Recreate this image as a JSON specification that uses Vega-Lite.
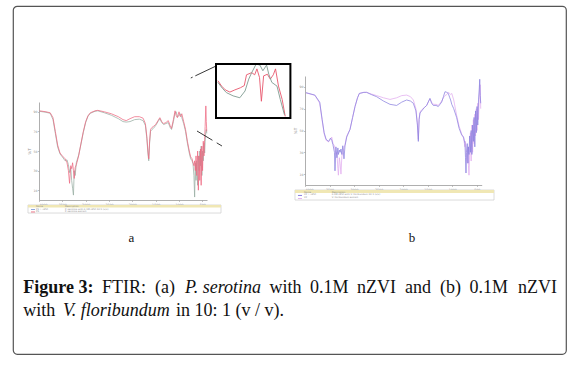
{
"$schema": "https://vega.github.io/schema/vega-lite/v6.json",
"width": 553, "height": 348,
"autosize": {"type": "none"},
"padding": {"left": 13, "top": 6, "right": 22, "bottom": 14},
"background": "white",
"config": {
  "view": {"stroke": "#555555", "strokeWidth": 1.2, "cornerRadius": 4},
  "axis": {"grid": false, "domainColor": "#9a9a9a", "domainWidth": 0.8, "tickColor": "#9a9a9a", "tickSize": 1.5, "tickWidth": 0.6, "labelFontSize": 3.2, "labelColor": "#909090", "labelPadding": 0.5, "labelOverlap": false, "titleFontSize": 4, "titleColor": "#909090", "titleFontWeight": "normal", "labelFont": "DejaVu Sans", "titleFont": "DejaVu Sans"}
},
"datasets": {
  "a": [
    {"w":3990,"g":90.5,"r":91},{"w":3850,"g":89.5,"r":90},{"w":3760,"g":88.5,"r":89},{"w":3700,"g":82,"r":84},{"w":3650,"g":68,"r":70},{"w":3600,"g":54,"r":56},{"w":3550,"g":47,"r":48},{"w":3500,"g":44,"r":45},{"w":3440,"g":40,"r":42},{"w":3400,"g":41,"r":38},{"w":3370,"g":36,"r":30},{"w":3345,"g":28,"r":17},{"w":3320,"g":33,"r":35},{"w":3300,"g":20,"r":32},{"w":3280,"g":12,"r":38},{"w":3262,"g":5,"r":30},{"w":3245,"g":30,"r":22},{"w":3225,"g":25,"r":33},{"w":3200,"g":38,"r":36},{"w":3150,"g":46,"r":45},{"w":3100,"g":57,"r":58},{"w":3050,"g":69,"r":70},{"w":3000,"g":79,"r":80},{"w":2950,"g":85.5,"r":86},{"w":2900,"g":88.5,"r":89},{"w":2800,"g":90.5,"r":91},{"w":2740,"g":91,"r":91.5},{"w":2600,"g":89,"r":90},{"w":2450,"g":86.5,"r":88},{"w":2300,"g":83,"r":85},{"w":2200,"g":80,"r":82},{"w":2130,"g":79.5,"r":81},{"w":2050,"g":80,"r":83},{"w":1950,"g":82,"r":85},{"w":1850,"g":82.5,"r":85},{"w":1770,"g":81,"r":83.5},{"w":1720,"g":76,"r":78},{"w":1690,"g":63,"r":65},{"w":1665,"g":47,"r":50},{"w":1648,"g":40,"r":42},{"w":1630,"g":58,"r":60},{"w":1610,"g":70,"r":72},{"w":1580,"g":72,"r":74},{"w":1550,"g":73,"r":75},{"w":1500,"g":76,"r":77},{"w":1450,"g":80,"r":81},{"w":1410,"g":83,"r":84},{"w":1370,"g":79,"r":80},{"w":1330,"g":77,"r":78},{"w":1280,"g":78,"r":79},{"w":1230,"g":79,"r":81},{"w":1190,"g":74,"r":76},{"w":1160,"g":72,"r":73},{"w":1120,"g":80,"r":82},{"w":1085,"g":89,"r":91},{"w":1060,"g":90,"r":86},{"w":1034,"g":85,"r":84},{"w":1000,"g":86,"r":90},{"w":970,"g":88,"r":85},{"w":940,"g":84,"r":88},{"w":900,"g":78,"r":80},{"w":860,"g":70,"r":72},{"w":820,"g":58,"r":60},{"w":780,"g":48,"r":50},{"w":750,"g":42,"r":44},{"w":720,"g":40,"r":42},{"w":700,"g":37,"r":38},{"w":680,"g":25,"r":35},{"w":665,"g":3,"r":40},{"w":650,"g":38,"r":30},{"w":635,"g":20,"r":45},{"w":620,"g":40,"r":25},{"w":600,"g":15,"r":50},{"w":585,"g":45,"r":10},{"w":570,"g":30,"r":45},{"w":555,"g":50,"r":20},{"w":540,"g":35,"r":52},{"w":525,"g":55,"r":15},{"w":510,"g":25,"r":55},{"w":495,"g":50,"r":30},{"w":480,"g":40,"r":60},{"w":465,"g":58,"r":45},{"w":450,"g":48,"r":62},{"w":440,"g":60,"r":75},{"w":425,"g":70,"r":96},{"w":415,"g":72,"r":80},{"w":405,"g":68,"r":70}
  ],
  "b": [
    {"w":3980,"p":84.7,"k":84.5},{"w":3800,"p":82.5,"k":82.3},{"w":3700,"p":76,"k":75},{"w":3650,"p":60,"k":59},{"w":3610,"p":48,"k":47},{"w":3570,"p":42,"k":41},{"w":3520,"p":40,"k":39.5},{"w":3480,"p":43,"k":42},{"w":3455,"p":41,"k":44},{"w":3430,"p":37,"k":38},{"w":3400,"p":30,"k":36},{"w":3389,"p":13,"k":33},{"w":3370,"p":35,"k":28},{"w":3350,"p":25,"k":30},{"w":3330,"p":34,"k":15},{"w":3320,"p":28,"k":9},{"w":3300,"p":32,"k":25},{"w":3285,"p":30,"k":20},{"w":3267,"p":33,"k":10},{"w":3250,"p":28,"k":26},{"w":3230,"p":36,"k":30},{"w":3206,"p":24,"k":34},{"w":3185,"p":36,"k":37},{"w":3150,"p":44,"k":45},{"w":3083,"p":51,"k":51},{"w":3030,"p":62,"k":62},{"w":2981,"p":72,"k":72},{"w":2930,"p":80,"k":80},{"w":2893,"p":84,"k":84},{"w":2800,"p":85,"k":85},{"w":2744,"p":85,"k":85},{"w":2650,"p":83,"k":83.5},{"w":2540,"p":81,"k":82},{"w":2400,"p":77,"k":80},{"w":2268,"p":74,"k":78.5},{"w":2133,"p":73,"k":80},{"w":2030,"p":76,"k":82},{"w":1929,"p":78,"k":82.5},{"w":1850,"p":77,"k":81},{"w":1793,"p":75,"k":78},{"w":1740,"p":68,"k":70},{"w":1710,"p":55,"k":57},{"w":1691,"p":40,"k":42},{"w":1675,"p":60,"k":61},{"w":1657,"p":66,"k":67},{"w":1623,"p":68,"k":69},{"w":1570,"p":71,"k":71},{"w":1521,"p":73,"k":73},{"w":1480,"p":77,"k":77},{"w":1454,"p":79.5,"k":79},{"w":1420,"p":75,"k":76},{"w":1386,"p":73,"k":74},{"w":1330,"p":73,"k":74},{"w":1284,"p":72,"k":73},{"w":1250,"p":74,"k":75},{"w":1216,"p":76,"k":77},{"w":1180,"p":81,"k":80},{"w":1148,"p":85.6,"k":82},{"w":1110,"p":85,"k":83},{"w":1080,"p":84,"k":85},{"w":1050,"p":80,"k":84},{"w":1033,"p":78,"k":83},{"w":1010,"p":74,"k":84},{"w":970,"p":70,"k":78},{"w":911,"p":62,"k":64},{"w":860,"p":52,"k":54},{"w":809,"p":46,"k":47},{"w":770,"p":44,"k":43},{"w":741,"p":38,"k":35},{"w":730,"p":25,"k":40},{"w":720,"p":11,"k":30},{"w":710,"p":30,"k":25},{"w":695,"p":38,"k":20},{"w":680,"p":20,"k":35},{"w":670,"p":35,"k":18},{"w":659,"p":28,"k":9},{"w":645,"p":45,"k":30},{"w":630,"p":30,"k":48},{"w":615,"p":50,"k":22},{"w":600,"p":28,"k":55},{"w":585,"p":55,"k":30},{"w":570,"p":40,"k":60},{"w":555,"p":62,"k":38},{"w":540,"p":35,"k":65},{"w":525,"p":68,"k":45},{"w":510,"p":48,"k":70},{"w":495,"p":72,"k":50},{"w":480,"p":55,"k":75},{"w":465,"p":78,"k":60},{"w":450,"p":88,"k":80},{"w":440,"p":97,"k":90},{"w":430,"p":82,"k":92},{"w":420,"p":75,"k":70}
  ],
  "inset": [
    {"s":"r","u":2.5,"T":69},{"s":"r","u":7.6,"T":59},{"s":"r","u":12.6,"T":52},{"s":"r","u":18.7,"T":48},{"s":"r","u":25.3,"T":52},{"s":"r","u":32.8,"T":56},{"s":"r","u":38,"T":60},{"s":"r","u":41,"T":80},{"s":"r","u":48,"T":84},{"s":"r","u":52,"T":80},{"s":"r","u":55,"T":91},{"s":"r","u":58.5,"T":75},{"s":"r","u":61,"T":31},{"s":"r","u":64,"T":78},{"s":"r","u":69,"T":81},{"s":"r","u":73,"T":72},{"s":"r","u":77,"T":80},{"s":"r","u":80,"T":91},{"s":"r","u":84,"T":59},{"s":"r","u":89,"T":34},{"s":"r","u":93,"T":3},
    {"s":"g","u":2.5,"T":66},{"s":"g","u":8.6,"T":55},{"s":"g","u":14,"T":47},{"s":"g","u":23,"T":41},{"s":"g","u":32,"T":37.5},{"s":"g","u":39,"T":50},{"s":"g","u":44,"T":72},{"s":"g","u":48,"T":84},{"s":"g","u":54,"T":100},{"s":"g","u":59,"T":98},{"s":"g","u":63,"T":87.5},{"s":"g","u":68,"T":98},{"s":"g","u":71,"T":81},{"s":"g","u":75,"T":66},{"s":"g","u":82,"T":59},{"s":"g","u":86.5,"T":34},{"s":"g","u":92,"T":6}
  ]
},
"layer": [
  {"layer": [
    {"data": {"name": "a"}, "transform": [{"fold": ["g", "r"], "as": ["s", "T"]}],
     "mark": {"type": "line", "strokeWidth": 0.75},
     "encoding": {
       "x": {"field": "w", "type": "quantitative", "scale": {"domain": [400, 4000], "range": [194, 26], "zero": false, "nice": false},
             "axis": {"orient": "bottom", "offset": -154, "values": [4000,3500,3000,2500,2000,1500,1000,500], "format": "d", "title": "cm-1", "titlePadding": 0.5}},
       "y": {"field": "T", "type": "quantitative", "scale": {"domain": [0, 100], "range": [194, 96], "zero": false, "nice": false},
             "axis": {"orient": "left", "offset": -26, "values": [10,20,30,40,50,60,70,80,90,100], "title": "%T", "titlePadding": 1}},
       "color": {"field": "s", "type": "nominal", "scale": {"domain": ["g", "r"], "range": ["#98ada3", "#ee6a82"]}, "legend": null}
     }},
    {"data": {"values": [{}]}, "mark": {"type": "rect", "fill": "#ffffff", "stroke": "#c4c4c4", "strokeWidth": 0.6},
     "encoding": {"x": {"datum": 4236}, "x2": {"datum": 100}, "y": {"datum": -5.1}, "y2": {"datum": -13.3}}},
    {"data": {"values": [{}]}, "mark": {"type": "rect", "fill": "#f0e7b4"},
     "encoding": {"x": {"datum": 4236}, "x2": {"datum": 100}, "y": {"datum": -5.1}, "y2": {"datum": -7.6}}},
    {"data": {"values": [{}]}, "mark": {"type": "rule", "stroke": "#6f8fd0", "strokeWidth": 0.8},
     "encoding": {"x": {"datum": 4171}, "x2": {"datum": 4086}, "y": {"datum": -9.7}}},
    {"data": {"values": [{}]}, "mark": {"type": "rule", "stroke": "#e8566c", "strokeWidth": 0.8},
     "encoding": {"x": {"datum": 4171}, "x2": {"datum": 4086}, "y": {"datum": -12.2}}},
    {"data": {"values": [{}]}, "mark": {"type": "text", "text": ["Name", "PS + nZVI", "PS"], "align": "left", "baseline": "middle", "fontSize": 2.4, "lineHeight": 2.5, "color": "#8a8a8a", "font": "DejaVu Sans"},
     "encoding": {"x": {"datum": 4064}, "y": {"datum": -6.4}}},
    {"data": {"values": [{}]}, "mark": {"type": "text", "text": ["Description", "P. serotina with 0.1M nZVI 10:1 (v/v)", "P. serotina extract"], "align": "left", "baseline": "middle", "fontSize": 2.4, "lineHeight": 2.5, "color": "#8a8a8a", "font": "DejaVu Sans"},
     "encoding": {"x": {"datum": 3443}, "y": {"datum": -6.4}}},
    {"data": {"values": [{}]}, "mark": {"type": "rule", "stroke": "#222222", "strokeWidth": 0.9, "strokeDash": [2, 3, 40, 0]},
     "encoding": {"x": {"datum": 747}, "x2": {"datum": 207}, "y": {"datum": 124.5}, "y2": {"datum": 136.7}}},
    {"data": {"values": [{}]}, "mark": {"type": "rule", "stroke": "#222222", "strokeWidth": 0.9, "strokeDash": [18, 5, 8, 0]},
     "encoding": {"x": {"datum": 614}, "x2": {"datum": 79}, "y": {"datum": 70.4}, "y2": {"datum": 55.1}}},
    {"data": {"values": [{}]}, "mark": {"type": "text", "text": "a", "align": "center", "baseline": "middle", "fontSize": 13, "font": "Liberation Serif", "color": "#111111"},
     "encoding": {"x": {"datum": 2018}, "y": {"datum": -38.3}}}
  ]},
  {"layer": [
    {"data": {"name": "b"}, "transform": [{"fold": ["k", "p"], "as": ["s", "T"]}],
     "mark": {"type": "line", "strokeWidth": 0.75},
     "encoding": {
       "x": {"field": "w", "type": "quantitative", "scale": {"domain": [400, 4000], "range": [468.7, 292], "zero": false, "nice": false},
             "axis": {"orient": "bottom", "offset": -169, "values": [4000,3500,3000,2500,2000,1500,1000,500], "format": "d", "title": "cm-1", "titlePadding": 0.5}},
       "y": {"field": "T", "type": "quantitative", "scale": {"domain": [0, 100], "range": [179, 70], "zero": false, "nice": false},
             "axis": {"orient": "left", "offset": -292, "values": [10,20,30,40,50,60,70,80,90,100], "title": "%T", "titlePadding": 1}},
       "color": {"field": "s", "type": "nominal", "scale": {"domain": ["k", "p"], "range": ["#e2acef", "#8a80df"]}, "legend": null}
     }},
    {"data": {"values": [{}]}, "mark": {"type": "rect", "fill": "#ffffff", "stroke": "#c4c4c4", "strokeWidth": 0.6},
     "encoding": {"x": {"datum": 4204}, "x2": {"datum": 149}, "y": {"datum": -4.6}, "y2": {"datum": -13.8}}},
    {"data": {"values": [{}]}, "mark": {"type": "rect", "fill": "#f0e7b4"},
     "encoding": {"x": {"datum": 4204}, "x2": {"datum": 149}, "y": {"datum": -4.6}, "y2": {"datum": -7.3}}},
    {"data": {"values": [{}]}, "mark": {"type": "rule", "stroke": "#6b63d6", "strokeWidth": 0.8},
     "encoding": {"x": {"datum": 4143}, "x2": {"datum": 4061}, "y": {"datum": -9.6}}},
    {"data": {"values": [{}]}, "mark": {"type": "rule", "stroke": "#dca0e8", "strokeWidth": 0.8},
     "encoding": {"x": {"datum": 4143}, "x2": {"datum": 4061}, "y": {"datum": -12.4}}},
    {"data": {"values": [{}]}, "mark": {"type": "text", "text": ["Name", "VF + nZVI", "VF"], "align": "left", "baseline": "middle", "fontSize": 2.4, "lineHeight": 2.8, "color": "#8a8a8a", "font": "DejaVu Sans"},
     "encoding": {"x": {"datum": 4020}, "y": {"datum": -6}}},
    {"data": {"values": [{}]}, "mark": {"type": "text", "text": ["Description", "0.1M nZVI with V. floribundum 10:1 (v/v)", "V. floribundum extract"], "align": "left", "baseline": "middle", "fontSize": 2.4, "lineHeight": 2.8, "color": "#8a8a8a", "font": "DejaVu Sans"},
     "encoding": {"x": {"datum": 3456}, "y": {"datum": -6}}},
    {"data": {"values": [{}]}, "mark": {"type": "text", "text": "b", "align": "center", "baseline": "middle", "fontSize": 13, "font": "Liberation Serif", "color": "#111111"},
     "encoding": {"x": {"datum": 1820}, "y": {"datum": -48.2}}}
  ]},
  {"layer": [
    {"data": {"name": "inset"},
     "mark": {"type": "line", "strokeWidth": 0.9},
     "encoding": {
       "x": {"field": "u", "type": "quantitative", "scale": {"domain": [0, 100], "range": [203, 277.4], "zero": false, "nice": false}, "axis": null},
       "y": {"field": "T", "type": "quantitative", "scale": {"domain": [0, 100], "range": [112, 58], "zero": false, "nice": false}, "axis": null},
       "color": {"field": "s", "type": "nominal", "scale": {"domain": ["g", "r"], "range": ["#7f9b91", "#e8566c"]}, "legend": null}
     }},
    {"data": {"values": [{}]}, "mark": {"type": "rect", "filled": false, "stroke": "#000000", "strokeWidth": 2},
     "encoding": {"x": {"datum": 0, "axis": null}, "x2": {"datum": 100}, "y": {"datum": 0, "axis": null}, "y2": {"datum": 100}}}
  ]},
  {"data": {"values": [{}]},
   "layer": [
    {"mark": {"type": "text", "text": "Figure 3:", "align": "left", "baseline": "alphabetic", "fontSize": 18, "fontWeight": "bold", "font": "Liberation Serif", "color": "#111111"},
     "encoding": {"x": {"datum": 23.3, "type": "quantitative", "scale": {"domain": [0, 588], "range": [-13, 575], "zero": false, "nice": false}, "axis": null},
                  "y": {"datum": 1, "type": "quantitative", "scale": {"domain": [1, 2], "range": [286.5, 310], "zero": false, "nice": false}, "axis": null}}},
    {"mark": {"type": "text", "text": "FTIR:", "align": "left", "baseline": "alphabetic", "fontSize": 18, "font": "Liberation Serif", "color": "#111111"},
     "encoding": {"x": {"datum": 102, "axis": null}, "y": {"datum": 1, "axis": null}}},
    {"mark": {"type": "text", "text": "(a)", "align": "left", "baseline": "alphabetic", "fontSize": 18, "font": "Liberation Serif", "color": "#111111"},
     "encoding": {"x": {"datum": 155, "axis": null}, "y": {"datum": 1, "axis": null}}},
    {"mark": {"type": "text", "text": "P. serotina", "align": "center", "baseline": "alphabetic", "fontSize": 18, "fontStyle": "italic", "font": "Liberation Serif", "color": "#111111"},
     "encoding": {"x": {"datum": 223, "axis": null}, "y": {"datum": 1, "axis": null}}},
    {"mark": {"type": "text", "text": "with", "align": "left", "baseline": "alphabetic", "fontSize": 18, "font": "Liberation Serif", "color": "#111111"},
     "encoding": {"x": {"datum": 269.5, "axis": null}, "y": {"datum": 1, "axis": null}}},
    {"mark": {"type": "text", "text": "0.1M", "align": "left", "baseline": "alphabetic", "fontSize": 18, "font": "Liberation Serif", "color": "#111111"},
     "encoding": {"x": {"datum": 310, "axis": null}, "y": {"datum": 1, "axis": null}}},
    {"mark": {"type": "text", "text": "nZVI", "align": "left", "baseline": "alphabetic", "fontSize": 18, "font": "Liberation Serif", "color": "#111111"},
     "encoding": {"x": {"datum": 357, "axis": null}, "y": {"datum": 1, "axis": null}}},
    {"mark": {"type": "text", "text": "and", "align": "left", "baseline": "alphabetic", "fontSize": 18, "font": "Liberation Serif", "color": "#111111"},
     "encoding": {"x": {"datum": 405, "axis": null}, "y": {"datum": 1, "axis": null}}},
    {"mark": {"type": "text", "text": "(b)", "align": "left", "baseline": "alphabetic", "fontSize": 18, "font": "Liberation Serif", "color": "#111111"},
     "encoding": {"x": {"datum": 440, "axis": null}, "y": {"datum": 1, "axis": null}}},
    {"mark": {"type": "text", "text": "0.1M", "align": "left", "baseline": "alphabetic", "fontSize": 18, "font": "Liberation Serif", "color": "#111111"},
     "encoding": {"x": {"datum": 469.5, "axis": null}, "y": {"datum": 1, "axis": null}}},
    {"mark": {"type": "text", "text": "nZVI", "align": "right", "baseline": "alphabetic", "fontSize": 18, "font": "Liberation Serif", "color": "#111111"},
     "encoding": {"x": {"datum": 557, "axis": null}, "y": {"datum": 1, "axis": null}}},
    {"mark": {"type": "text", "text": "with", "align": "left", "baseline": "alphabetic", "fontSize": 18, "font": "Liberation Serif", "color": "#111111"},
     "encoding": {"x": {"datum": 23.3, "axis": null}, "y": {"datum": 2, "axis": null}}},
    {"mark": {"type": "text", "text": "V. floribundum", "align": "left", "baseline": "alphabetic", "fontSize": 18, "fontStyle": "italic", "font": "Liberation Serif", "color": "#111111"},
     "encoding": {"x": {"datum": 63, "axis": null}, "y": {"datum": 2, "axis": null}}},
    {"mark": {"type": "text", "text": "in 10: 1 (v / v).", "align": "left", "baseline": "alphabetic", "fontSize": 18, "font": "Liberation Serif", "color": "#111111"},
     "encoding": {"x": {"datum": 176, "axis": null}, "y": {"datum": 2, "axis": null}}}
  ]}
],
"resolve": {"scale": {"x": "independent", "y": "independent", "color": "independent"}, "axis": {"x": "independent", "y": "independent"}, "legend": {"color": "independent"}}
}
